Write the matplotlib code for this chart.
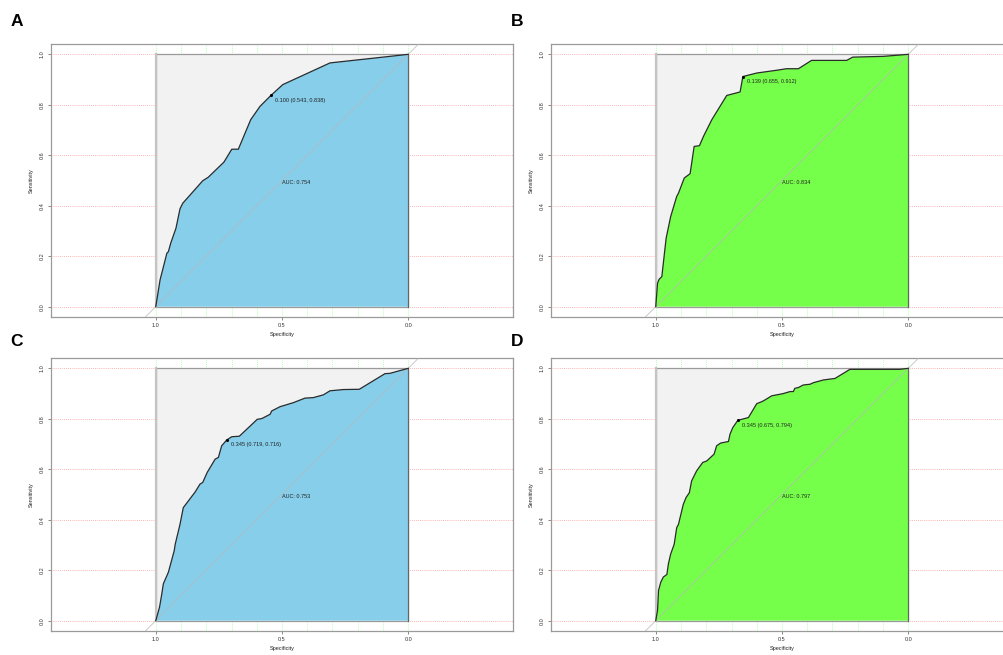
"""Four ROC panels (pROC style) recreated with matplotlib."""

import matplotlib

matplotlib.use("Agg")
import matplotlib.pyplot as plt
from matplotlib.patches import Rectangle

plt.rcParams["font.family"] = ["Liberation Sans", "DejaVu Sans"]

# ROC curves: (specificity, sensitivity), spec 1 -> 0
spec_a = [1.0, 0.983, 0.956, 0.950, 0.941, 0.920, 0.904, 0.893, 0.814, 0.792,
          0.730, 0.699, 0.673, 0.624, 0.587, 0.543, 0.497, 0.310, 0.0]
sens_a = [0.0, 0.106, 0.212, 0.218, 0.251, 0.311, 0.388, 0.410, 0.499, 0.513,
          0.573, 0.624, 0.624, 0.741, 0.794, 0.838, 0.880, 0.966, 1.0]

spec_b = [1.0, 0.993, 0.987, 0.976, 0.959, 0.941, 0.917, 0.910, 0.887, 0.864,
          0.848, 0.827, 0.811, 0.778, 0.719, 0.666, 0.655, 0.600, 0.521, 0.482,
          0.435, 0.383, 0.244, 0.220, 0.099, 0.0]
sens_b = [0.0, 0.093, 0.108, 0.119, 0.271, 0.357, 0.437, 0.450, 0.510, 0.527,
          0.635, 0.638, 0.675, 0.741, 0.837, 0.851, 0.912, 0.926, 0.937, 0.943,
          0.943, 0.976, 0.976, 0.989, 0.992, 1.0]

spec_c = [1.0, 0.985, 0.976, 0.970, 0.950, 0.927, 0.923, 0.904, 0.891, 0.844,
          0.825, 0.814, 0.796, 0.765, 0.752, 0.739, 0.719, 0.699, 0.669, 0.598,
          0.580, 0.547, 0.541, 0.508, 0.455, 0.409, 0.376, 0.336, 0.310, 0.257,
          0.194, 0.092, 0.073, 0.0]
sens_c = [0.0, 0.054, 0.107, 0.146, 0.192, 0.277, 0.303, 0.382, 0.448, 0.510,
          0.541, 0.548, 0.588, 0.640, 0.647, 0.693, 0.716, 0.729, 0.731, 0.798,
          0.801, 0.818, 0.831, 0.848, 0.864, 0.882, 0.884, 0.895, 0.911, 0.916,
          0.917, 0.979, 0.980, 1.0]

spec_d = [1.0, 0.993, 0.989, 0.980, 0.970, 0.956, 0.950, 0.941, 0.927, 0.917,
          0.910, 0.891, 0.880, 0.867, 0.858, 0.838, 0.814, 0.798, 0.769, 0.759,
          0.743, 0.712, 0.706, 0.695, 0.675, 0.633, 0.600, 0.580, 0.567, 0.541,
          0.495, 0.468, 0.455, 0.449, 0.435, 0.416, 0.389, 0.376, 0.336, 0.290,
          0.231, 0.033, 0.0]
sens_d = [0.0, 0.041, 0.120, 0.153, 0.173, 0.183, 0.225, 0.264, 0.303, 0.369,
          0.382, 0.461, 0.488, 0.507, 0.554, 0.594, 0.627, 0.633, 0.660, 0.693,
          0.704, 0.710, 0.739, 0.765, 0.794, 0.805, 0.860, 0.868, 0.875, 0.891,
          0.900, 0.908, 0.908, 0.921, 0.924, 0.934, 0.937, 0.943, 0.954, 0.960,
          0.996, 0.996, 1.0]

panel_labels = ["A", "B", "C", "D"]
thresholds = [0.100, 0.139, 0.345, 0.345]
thr_spec = [0.543, 0.655, 0.719, 0.675]
thr_sens = [0.838, 0.912, 0.716, 0.794]
auc_values = [0.754, 0.834, 0.753, 0.797]
fill_colors = ["#87CEEB", "#76FF4A", "#87CEEB", "#76FF4A"]

W, H = 1004, 655


def draw_roc(ax, spec, sens, color, thr, ts, tse, auc):
    ax.set_xlim(1.415, -0.415)
    ax.set_ylim(-0.041, 1.041)

    for y in [0, 0.2, 0.4, 0.6, 0.8, 1.0]:
        ax.axhline(y, color="#ff7070", lw=0.6, ls=(0, (1, 1.5)), alpha=0.7, zorder=1)
    for x in [i / 10 for i in range(11)]:
        ax.axvline(x, color="#80ff80", lw=0.6, ls=(0, (1, 1.5)), alpha=0.8, zorder=1)

    ax.add_patch(Rectangle((0, 0), 1, 1, facecolor="#F2F2F2",
                           edgecolor="#9a9a9a", lw=0.9, zorder=2))
    ax.plot([1, 1], [0, 1], color="#c4c4c4", lw=1.6, zorder=2.5)

    ax.fill(list(spec) + [0.0], list(sens) + [0.0], facecolor=color,
            edgecolor="none", lw=0, zorder=3)
    ax.plot([0, 0], [0, 1], color=(0.2, 0.2, 0.2, 0.55), lw=0.9, zorder=3.5)

    ax.plot([1.6, -0.6], [-0.6, 1.6], color="#b8b8b8", lw=0.5, zorder=4)
    ax.plot(spec, sens, color="#2b2b2b", lw=0.9, zorder=5)

    ax.plot([ts], [tse], "o", color="black", ms=1.2, zorder=6)
    ax.annotate(f"{thr:.3f} ({ts:.3f}, {tse:.3f})", (ts, tse),
                xytext=(3, -3.5), textcoords="offset points",
                fontsize=4, ha="left", va="center", color="#222222", zorder=7)
    ax.text(0.5, 0.5, f"AUC: {auc:.3f}", fontsize=4, ha="left", va="top",
            color="#222222", zorder=7)

    ax.set_xticks([1.0, 0.5, 0.0])
    ax.set_xticklabels(["1.0", "0.5", "0.0"])
    ax.set_yticks([0, 0.2, 0.4, 0.6, 0.8, 1.0])
    ax.set_yticklabels(["0.0", "0.2", "0.4", "0.6", "0.8", "1.0"],
                       rotation=90, va="center")
    ax.tick_params(labelsize=4, length=2.5, width=0.6, color="#777777",
                   labelcolor="#333333", pad=2)
    ax.set_xlabel("Specificity", fontsize=4, labelpad=3, color="#222222")
    ax.set_ylabel("Sensitivity", fontsize=4, labelpad=4, color="#222222")
    for s in ax.spines.values():
        s.set_color("#9a9a9a")
        s.set_linewidth(0.9)


fig = plt.figure(figsize=(W / 100, H / 100), dpi=100)

# frames in pixels: (left, top, right, bottom)
frames = [(51, 44, 513, 317), (551, 44, 1013, 317),
          (51, 358, 513, 631), (551, 358, 1013, 631)]
label_pos = [(17, 22), (517, 22), (17, 342), (517, 342)]
curves = [(spec_a, sens_a), (spec_b, sens_b), (spec_c, sens_c), (spec_d, sens_d)]

for i in range(4):
    l, t, r, b = frames[i]
    ax = fig.add_axes([l / W, 1 - b / H, (r - l) / W, (b - t) / H])
    draw_roc(ax, curves[i][0], curves[i][1], fill_colors[i], thresholds[i],
             thr_spec[i], thr_sens[i], auc_values[i])
    lx, ly = label_pos[i]
    fig.text(lx / W, 1 - ly / H, panel_labels[i], fontsize=12.5,
             fontweight="bold", ha="center", va="center")

fig.savefig("out.png", dpi=100)
